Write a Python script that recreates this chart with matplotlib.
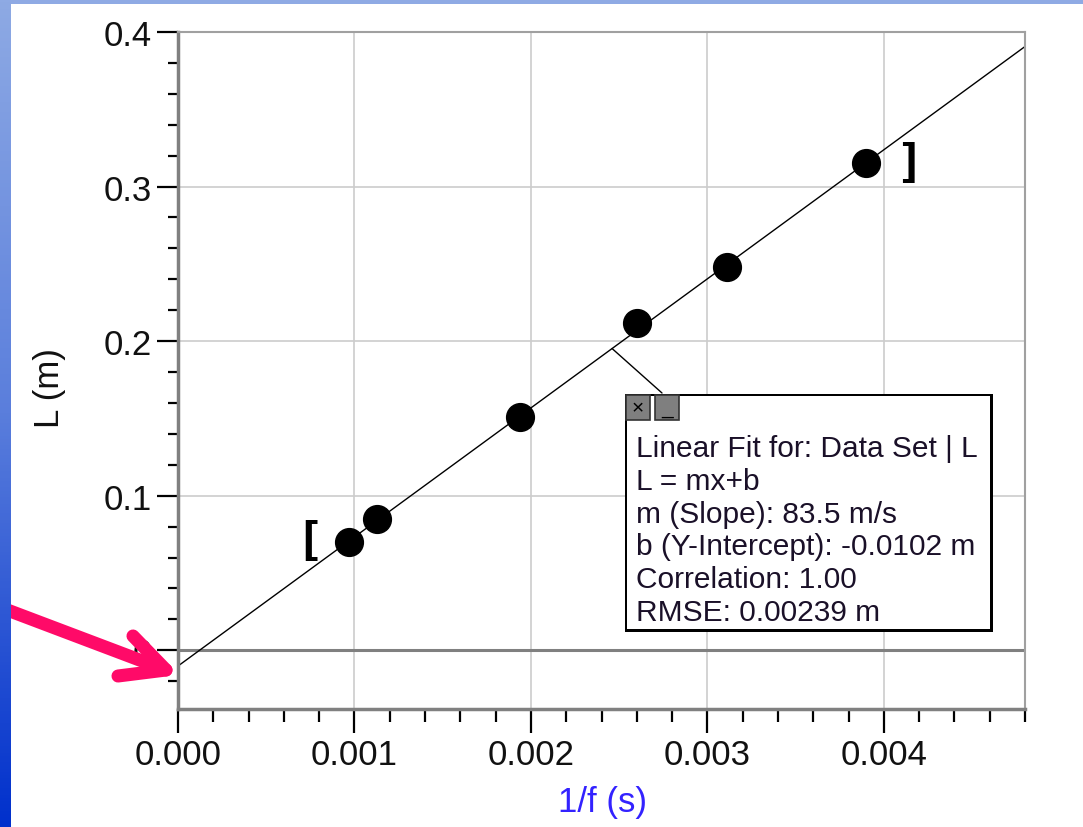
import numpy as np
import matplotlib.pyplot as plt
from matplotlib.patches import Rectangle
from matplotlib.lines import Line2D
from matplotlib.colors import LinearSegmentedColormap
from matplotlib.ticker import MultipleLocator

plt.rcParams['font.family'] = ['Liberation Sans', 'DejaVu Sans']

# data
inv_f = [0.000967, 0.001126, 0.00194, 0.00260, 0.00311, 0.00390]
length = [0.0703, 0.0852, 0.151, 0.212, 0.248, 0.315]
slope = 83.5
intercept = -0.0102
x_ticks = [0.0, 0.001, 0.002, 0.003, 0.004]
x_labels = ['0.000', '0.001', '0.002', '0.003', '0.004']
y_ticks = [0.0, 0.1, 0.2, 0.3, 0.4]
y_labels = ['0', '0.1', '0.2', '0.3', '0.4']
fit_lines = ['Linear Fit for: Data Set | L',
             'L = mx+b',
             'm (Slope): 83.5 m/s',
             'b (Y-Intercept): -0.0102 m',
             'Correlation: 1.00',
             'RMSE: 0.00239 m']

W, H = 1083, 828
fig = plt.figure(figsize=(W / 100, H / 100), dpi=100)


def fp(x, y):
    # figure pixel (from top-left) -> figure fraction
    return x / W, 1 - y / H


ax = fig.add_axes([178 / W, 1 - 710 / H, (1025 - 178) / W, (710 - 33) / H])
ax.set_xlim(0, 0.0048)
ax.set_ylim(-0.038, 0.4)

ax.set_xticks(x_ticks)
ax.set_xticklabels(x_labels)
ax.set_yticks(y_ticks)
ax.set_yticklabels(y_labels)
ax.xaxis.set_minor_locator(MultipleLocator(0.0002))
ax.yaxis.set_minor_locator(MultipleLocator(0.02))
ax.tick_params(axis='both', which='both', direction='out', color='black',
               width=1.6, labelsize=25, labelcolor='#111111')
ax.tick_params(axis='x', which='major', length=17, pad=4)
ax.tick_params(axis='x', which='minor', length=9)
ax.tick_params(axis='y', which='major', length=15, pad=4)
ax.tick_params(axis='y', which='minor', length=7.5)

ax.grid(True, which='major', color='#cccccc', linewidth=1.2)
ax.set_axisbelow(True)
for side_name in ['left', 'bottom']:
    ax.spines[side_name].set_color('#808080')
    ax.spines[side_name].set_linewidth(2.5)
for side_name in ['top', 'right']:
    ax.spines[side_name].set_color('#a0a0a0')
    ax.spines[side_name].set_linewidth(1.5)
ax.axhline(0, color='#808080', linewidth=2.2, zorder=1)

xf = np.array([0, 0.0048])
ax.plot(xf, slope * xf + intercept, color='black', linewidth=1.0, zorder=2)
ax.plot(inv_f, length, 'o', color='black', markersize=20, zorder=3)

# range brackets
ax.annotate('[', (inv_f[0], length[0]), xytext=(-28, 0), textcoords='offset points',
            ha='center', va='center', fontsize=34, fontweight='bold',
            family='DejaVu Sans Mono')
ax.annotate(']', (inv_f[-1], length[-1]), xytext=(31, 0), textcoords='offset points',
            ha='center', va='center', fontsize=34, fontweight='bold',
            family='DejaVu Sans Mono')

fig.text(*fp(49, 388), 'L (m)', rotation=90, ha='center', va='center',
         fontsize=25, color='#111111')
fig.text(*fp(602, 803), '1/f (s)', ha='center', va='center',
         fontsize=25, color='#3322ff')

# fit info box
xc = 0.00246
ax.annotate('', xy=(xc, slope * xc + intercept), xytext=fp(662, 394),
            textcoords='figure fraction', annotation_clip=False,
            arrowprops=dict(arrowstyle='-', color='black', lw=1.0,
                            shrinkA=0, shrinkB=0))
x0, y0 = fp(625, 633)
fig.patches.append(Rectangle((x0, y0), 368 / W, 238 / H, transform=fig.transFigure,
                             facecolor='black', edgecolor='none', zorder=5))
x1, y1 = fp(627, 630)
fig.patches.append(Rectangle((x1, y1), 363 / W, 233 / H, transform=fig.transFigure,
                             facecolor='white', edgecolor='none', zorder=6))
for bx, sym in [(626, '×'), (655, '_')]:
    rx, ry = fp(bx, 421)
    fig.patches.append(Rectangle((rx, ry), 24 / W, 25 / H, transform=fig.transFigure,
                                 facecolor='#7f7f7f', edgecolor='#333333',
                                 linewidth=1.2, zorder=7))
    fig.text(*fp(bx + 12, 409), sym, ha='center', va='center', fontsize=15,
             color='black', zorder=8)
for i, line in enumerate(fit_lines):
    fig.text(*fp(636, 457 + 32.8 * i), line, ha='left', va='baseline',
             fontsize=21.5, color='#1a1028', zorder=8)

# pink pointer arrow: shaft plus two head strokes
tail, tip = fp(2, 609), fp(166, 671)
arm1, arm2 = fp(133, 637), fp(118, 677)
for path in ([tail, tip], [arm1, tip, arm2]):
    xs, ys = zip(*path)
    fig.lines.append(Line2D(xs, ys, transform=fig.transFigure, color='#ff0a68',
                            linewidth=9.4, solid_capstyle='round',
                            solid_joinstyle='round', zorder=9))

# blue slide border, drawn on top of the arrow tail
top = fig.add_axes([0, 1 - 5 / H, 1, 5 / H], zorder=20)
top.axis('off')
top.add_patch(Rectangle((0, 0), 1, 1, color='#8faae4', transform=top.transAxes))
side = fig.add_axes([0, 0, 11 / W, 1], zorder=20)
grad = np.linspace(0, 1, 256).reshape(-1, 1)
cmap = LinearSegmentedColormap.from_list('edge', ['#8eaae4', '#5a7edc', '#0030cc'])
side.imshow(grad, aspect='auto', cmap=cmap, extent=[0, 1, 0, 1], origin='upper')
side.axis('off')

plt.savefig('out.png', dpi=100)
